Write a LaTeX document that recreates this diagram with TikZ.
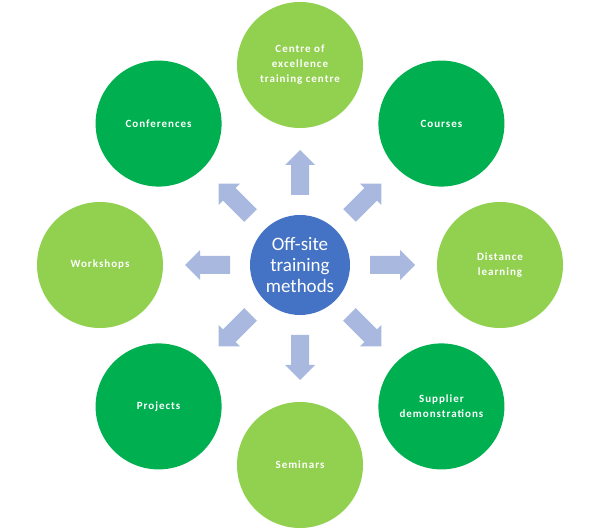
\documentclass[tikz,border=0pt]{standalone}
\usepackage{fontspec}
\setmainfont{Carlito}
\newfontfamily\spacedfont[LetterSpace=9]{Carlito}
\usetikzlibrary{calc}
\definecolor{lgreen}{RGB}{146,208,80}
\definecolor{dgreen}{RGB}{0,176,80}
\definecolor{cblue}{RGB}{68,114,196}
\definecolor{arrowc}{RGB}{168,184,222}
\tikzset{
  outer/.style={circle, minimum size=126pt, inner sep=0pt, text=white, align=center,
    font=\spacedfont\fontsize{11}{15}\selectfont\bfseries},
  lnode/.style={outer, fill=lgreen},
  dnode/.style={outer, fill=dgreen},
  hub/.style={circle, minimum size=100pt, inner sep=0pt, fill=cblue, text=white, align=center,
    font=\fontsize{19}{21}\selectfont},
  blockarrow/.style={fill=arrowc}
}
\begin{document}
\begin{tikzpicture}[x=1pt,y=1pt]
\useasboundingbox (0,0) rectangle (599,530);
\node[hub] (c) at (300,265) {Off-site\\training\\methods};
\node[lnode] (n90) at ($(c)+(90:200)$) {Centre of\\excellence\\training centre};
\node[dnode] (n45) at ($(c)+(45:200)$) {Courses};
\node[lnode] (n0) at ($(c)+(0:200)$) {Distance\\learning};
\node[dnode] (n315) at ($(c)+(-45:200)$) {Supplier\\demonstrations};
\node[lnode] (n270) at ($(c)+(-90:200)$) {Seminars};
\node[dnode] (n225) at ($(c)+(-135:200)$) {Projects};
\node[lnode] (n180) at ($(c)+(180:200)$) {Workshops};
\node[dnode] (n135) at ($(c)+(135:200)$) {Conferences};
\foreach \a in {0,45,...,315}{
  \fill[blockarrow, shift={(c.center)}, rotate=\a]
    (70,-9) -- (100,-9) -- (100,-15) -- (115,0) -- (100,15) -- (100,9) -- (70,9) -- cycle;
}
\end{tikzpicture}
\end{document}
